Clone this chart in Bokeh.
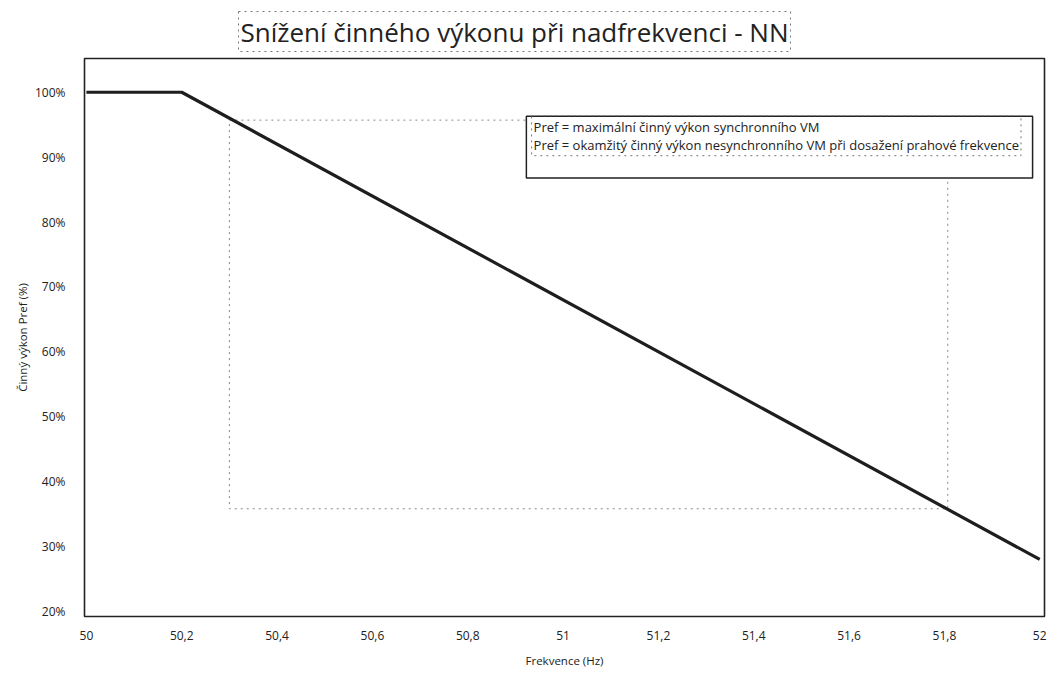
import math
from bokeh.plotting import figure
from bokeh.models import Label, Range1d, ColumnDataSource, FixedTicker
from bokeh.embed import file_html
from bokeh.resources import INLINE

# ---- data ----
freq = [50.0, 50.2, 52.0]
power = [100, 100, 28]
x_ticks = [50.0, 50.2, 50.4, 50.6, 50.8, 51.0, 51.2, 51.4, 51.6, 51.8, 52.0]
x_tick_labels = ["50", "50,2", "50,4", "50,6", "50,8", "51", "51,2", "51,4", "51,6", "51,8", "52"]
y_ticks = [20, 30, 40, 50, 60, 70, 80, 90, 100]
y_tick_labels = ["20%", "30%", "40%", "50%", "60%", "70%", "80%", "90%", "100%"]
title_text = "Snížení činného výkonu při nadfrekvenci - NN"
x_title = "Frekvence (Hz)"
y_title = "Činný výkon Pref (%)"
legend_lines = ["Pref = maximální činný výkon synchronního VM",
                "Pref = okamžitý činný výkon nesynchronního VM při dosažení prahové frekvence"]

FONT = "Open Sans"
TXT = "#222222"

p = figure(width=1050, height=670, output_backend="svg", toolbar_location=None,
           x_range=Range1d(49.996, 52.01), y_range=Range1d(19.2, 105.2),
           min_border_left=84, min_border_right=6, min_border_top=58, min_border_bottom=51)
p.grid.visible = False
p.outline_line_color = "#222222"
p.outline_line_width = 1.6
p.background_fill_color = "white"
p.border_fill_color = "white"

# title
p.title.text = title_text
p.title.align = "left"
p.title.offset = 154
p.title.text_font = FONT
p.title.text_font_size = "26px"
p.title.text_font_style = "normal"
p.title.text_color = TXT
p.title.standoff = 14
p.title.border_line_color = "#777777"
p.title.border_line_dash = "dotted"
p.title.padding = 2

# axes
for ax, ticks, labels in ((p.xaxis[0], x_ticks, x_tick_labels), (p.yaxis[0], y_ticks, y_tick_labels)):
    ax.ticker = FixedTicker(ticks=ticks)
    ax.major_label_overrides = {t: l for t, l in zip(ticks, labels)}
    ax.major_tick_line_color = None
    ax.minor_tick_line_color = None
    ax.axis_line_color = None
    ax.major_label_text_font = FONT
    ax.major_label_text_font_size = "12px"
    ax.major_label_text_color = TXT
    ax.axis_label_text_font = FONT
    ax.axis_label_text_font_size = "11.5px"
    ax.axis_label_text_font_style = "normal"
    ax.axis_label_text_color = TXT

p.xaxis.axis_label = x_title
p.yaxis.axis_label = y_title
p.xaxis.major_label_standoff = 8
p.xaxis.axis_label_standoff = 10
p.yaxis.major_label_standoff = 13
p.yaxis.axis_label_standoff = 2

# dotted artifact rectangle
p.quad(left=[50.300], right=[51.807], bottom=[35.8], top=[95.7],
       fill_alpha=0, line_color="#888888", line_dash="dotted", line_width=1)

# main line
src = ColumnDataSource(dict(x=freq, y=power))
p.line("x", "y", source=src, line_color="#1e1e1e", line_width=3.2)

# legend box
p.quad(left=[50.923], right=[51.985], bottom=[86.8], top=[96.3],
       fill_color="white", line_color="#222222", line_width=1.5)
p.add_layout(Label(x=50.934, y=93.3, text="\n".join(legend_lines), text_align="left",
                   text_baseline="middle", text_font_size="13px", text_line_height=1.0,
                   border_line_color="#777777", border_line_dash="dotted", padding=2,
                   text_font=FONT, text_color=TXT))

open("out.html", "w").write(file_html(p, INLINE))
